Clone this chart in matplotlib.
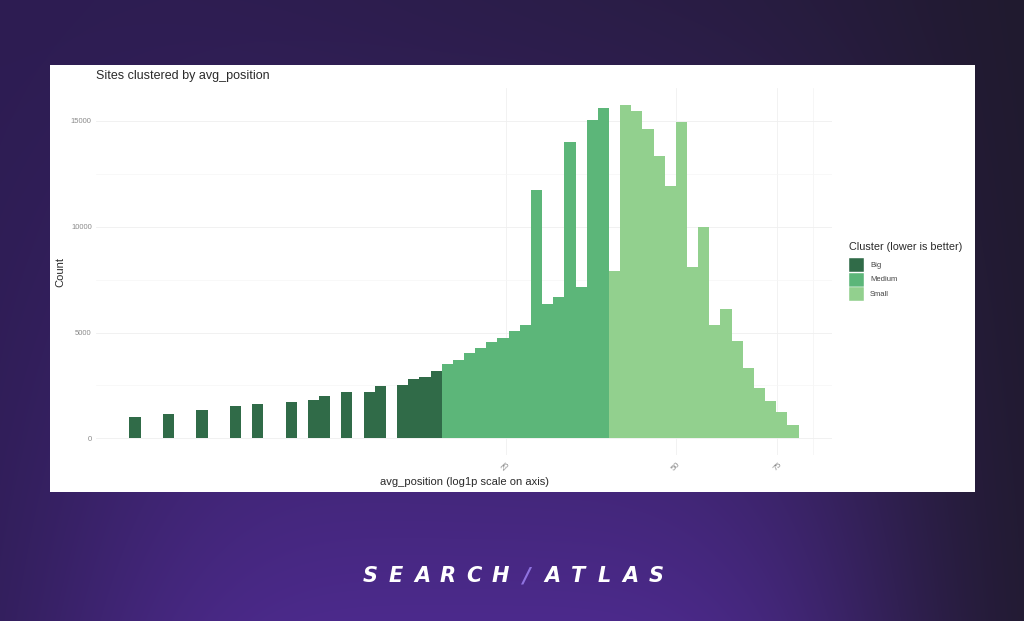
import numpy as np
import matplotlib
matplotlib.use("Agg")
import matplotlib.pyplot as plt
from matplotlib.patches import Rectangle

# ---------------- data ----------------
# histogram of avg_position, 60 equal-width bins on the log1p scale
log1p_min = 1.7708          # left edge of first bin (log1p units)
log1p_max = 4.4144          # right edge of last bin (log1p units)
counts = [1000, 0, 0, 1160, 0, 0, 1320, 0, 0, 1510,
          0, 1620, 0, 0, 1700, 0, 1810, 2020, 0, 2170,
          0, 2200, 2490, 0, 2540, 2810, 2920, 3170, 3510, 3710,
          4030, 4290, 4530, 4760, 5050, 5360, 11720, 6360, 6670, 13990,
          7150, 15060, 15630, 7930, 15770, 15490, 14620, 13360, 11940, 14950,
          8120, 9980, 5360, 6120, 4620, 3310, 2400, 1770, 1260, 630]
clusters = ["Big"] * 28 + ["Medium"] * 15 + ["Small"] * 17
cluster_order = ["Big", "Medium", "Small"]
cluster_colors = {"Big": "#306b48", "Medium": "#5cb679", "Small": "#92d08e"}
x_breaks = [25, 50, 75]
y_breaks = [0, 5000, 10000, 15000]

title = "Sites clustered by avg_position"
xlabel = "avg_position (log1p scale on axis)"
ylabel = "Count"
legend_title = "Cluster (lower is better)"
brand_left = "SEARCH"
brand_right = "ATLAS"

# ---------------- figure ----------------
W, H = 1024, 621
fig = plt.figure(figsize=(W / 100, H / 100), dpi=100)
plt.rcParams['font.family'] = ['Liberation Sans', 'DejaVu Sans']

def fx(px):
    return px / W

def fy(py):
    return 1 - py / H

# background gradient
bg = fig.add_axes([0, 0, 1, 1])
yy, xx = np.mgrid[0:H, 0:W]
v = yy / H
hpos = xx / W
left_dark = np.array([44, 28, 80]) / 255
right_dark = np.array([32, 26, 46]) / 255
purple = np.array([76, 42, 140]) / 255
base = left_dark[None, None, :] * (1 - hpos[..., None]) + right_dark[None, None, :] * hpos[..., None]
f = (0.15 + 0.85 * v ** 1.2) * np.exp(-((xx - 470) / 430.0) ** 4)
img = base + f[..., None] * (purple - base)
bg.imshow(np.clip(img, 0, 1), extent=[0, W, H, 0], aspect='auto')
bg.set_xlim(0, W)
bg.set_ylim(H, 0)
bg.axis('off')

# white panel
fig.patches.append(Rectangle((fx(50), fy(492)), fx(975) - fx(50), fy(65) - fy(492),
                             transform=fig.transFigure, facecolor='white',
                             edgecolor='none', zorder=1))

# ---------------- main axes ----------------
ax = fig.add_axes([fx(96), fy(455), fx(832) - fx(96), fy(88) - fy(455)])
ax.set_zorder(2)
ax.patch.set_alpha(0)

n = len(counts)
edges = np.linspace(log1p_min, log1p_max, n + 1)
bw = edges[1] - edges[0]
cols = [cluster_colors[c] for c in clusters]
ax.bar(edges[:-1], counts, width=bw, align='edge', color=cols, linewidth=0, zorder=3)

span = log1p_max - log1p_min
ax.set_xlim(log1p_min - 0.05 * span, log1p_max + 0.05 * span)
ymax = max(counts)
ax.set_ylim(-0.05 * ymax, 1.05 * ymax)

# grid (theme_minimal style)
xt = np.log1p(x_breaks)
for x in xt:
    ax.axvline(x, color='#f0f0f0', lw=0.6, zorder=1)
ax.axvline((np.log1p(75) + np.log1p(100)) / 2, color='#f3f3f3', lw=0.5, zorder=1)
for y in y_breaks:
    ax.axhline(y, color='#efefef', lw=0.6, zorder=1)
for i in range(len(y_breaks) - 1):
    ax.axhline((y_breaks[i] + y_breaks[i + 1]) / 2, color='#f6f6f6', lw=0.5, zorder=1)

ax.set_xticks(xt)
ax.set_xticklabels([str(b) for b in x_breaks], rotation=45, ha='center', va='top',
                   fontsize=6, color='#8a8a8a')
ax.set_yticks(y_breaks)
ax.set_yticklabels([str(b) for b in y_breaks], fontsize=5.5, color='#8a8a8a')
ax.tick_params(axis='y', length=0, pad=3)
ax.tick_params(axis='x', length=0, pad=4)
for s in ax.spines.values():
    s.set_visible(False)

# titles
fig.text(fx(96), fy(76), title, ha='left', va='center', fontsize=9, color='#2a2a2a', zorder=5)
fig.text(fx(464), fy(482), xlabel, ha='center', va='center', fontsize=8, color='#2a2a2a', zorder=5)
fig.text(fx(60), fy(272), ylabel, ha='center', va='center', rotation=90, fontsize=8,
         color='#2a2a2a', zorder=5)

# legend
fig.text(fx(849), fy(247), legend_title, ha='left', va='center', fontsize=7.8,
         color='#2a2a2a', zorder=5)
key_top = 258
key_h = 14.5
for i, c in enumerate(cluster_order):
    top = key_top + i * key_h
    fig.patches.append(Rectangle((fx(849), fy(top + key_h)), fx(864) - fx(849), key_h / H,
                                 transform=fig.transFigure, facecolor=cluster_colors[c],
                                 edgecolor='white', linewidth=0.3, zorder=5))
    fig.text(fx(870), fy(top + key_h / 2), c, ha='left', va='center', fontsize=5.5,
             color='#444444', zorder=5)

# brand text
chars = list(brand_left) + ["/"] + list(brand_right)
x0, x1 = 370, 656
for k, ch in enumerate(chars):
    xc = x0 + k * (x1 - x0) / (len(chars) - 1)
    color = '#8f73e0' if ch == "/" else 'white'
    fig.text(fx(xc), fy(576), ch, ha='center', va='center', fontsize=15,
             fontweight='bold', fontstyle='oblique', family='DejaVu Sans',
             color=color, zorder=5)

fig.savefig("out.png", dpi=100)
